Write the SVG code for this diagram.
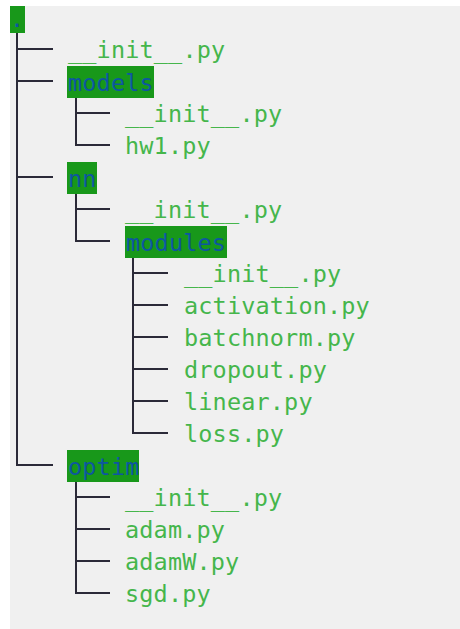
<svg xmlns="http://www.w3.org/2000/svg" width="460" height="629" viewBox="0 0 460 629">
  <style>
    .bg { fill: #f0f0f0; }
    .t { font-family: "DejaVu Sans Mono", "Liberation Mono", monospace; font-size: 23.5px; letter-spacing: 0.15px; fill: #45b64b; }
    .d { font-family: "DejaVu Sans Mono", "Liberation Mono", monospace; font-size: 23.5px; letter-spacing: 0.15px; fill: #0d56a0; }
    .hl { fill: #18981a; }
    .c { stroke: #2b2a38; stroke-width: 2; fill: none; }
  </style>
  <rect x="0" y="0" width="460" height="629" fill="#ffffff"/>
  <rect class="bg" x="10" y="6" width="450" height="623"/>

  <g id="connectors">
    <path class="c" d="M17 33 V466 M17 49 H53 M17 81 H53 M17 177 H53 M17 465 H53"/>
    <path class="c" d="M76 97 V146 M76 113 H110 M76 145 H110"/>
    <path class="c" d="M76 193 V242 M76 209 H110 M76 241 H110"/>
    <path class="c" d="M133 257 V434 M133 273 H168 M133 305 H168 M133 337 H168 M133 369 H168 M133 401 H168 M133 433 H168"/>
    <path class="c" d="M76 481 V594 M76 497 H110 M76 529 H110 M76 561 H110 M76 593 H110"/>
  </g>

  <g id="root">
    <rect class="hl" x="10" y="6" width="15" height="27"/>
    <text class="d" x="10" y="27">.</text>
  </g>
  <g id="init_root"><text class="t" x="68" y="58">__init__.py</text></g>
  <g id="models">
    <rect class="hl" x="67" y="66" width="87" height="32"/>
    <text class="d" x="68" y="91">models</text>
  </g>
  <g id="models_init"><text class="t" x="125" y="122">__init__.py</text></g>
  <g id="hw1"><text class="t" x="125" y="154">hw1.py</text></g>
  <g id="nn">
    <rect class="hl" x="67" y="162" width="30" height="32"/>
    <text class="d" x="68" y="187">nn</text>
  </g>
  <g id="nn_init"><text class="t" x="125" y="218">__init__.py</text></g>
  <g id="modules">
    <rect class="hl" x="125" y="226" width="102" height="32"/>
    <text class="d" x="126" y="251">modules</text>
  </g>
  <g id="modules_init"><text class="t" x="184" y="282">__init__.py</text></g>
  <g id="activation"><text class="t" x="184" y="314">activation.py</text></g>
  <g id="batchnorm"><text class="t" x="184" y="346">batchnorm.py</text></g>
  <g id="dropout"><text class="t" x="184" y="378">dropout.py</text></g>
  <g id="linear"><text class="t" x="184" y="410">linear.py</text></g>
  <g id="loss"><text class="t" x="184" y="442">loss.py</text></g>
  <g id="optim">
    <rect class="hl" x="67" y="450" width="72" height="32"/>
    <text class="d" x="68" y="475">optim</text>
  </g>
  <g id="optim_init"><text class="t" x="125" y="506">__init__.py</text></g>
  <g id="adam"><text class="t" x="125" y="538">adam.py</text></g>
  <g id="adamW"><text class="t" x="125" y="570">adamW.py</text></g>
  <g id="sgd"><text class="t" x="125" y="602">sgd.py</text></g>
</svg>
